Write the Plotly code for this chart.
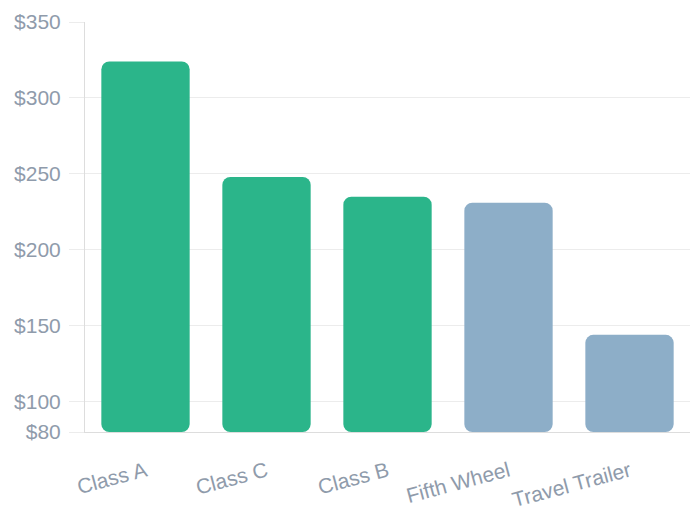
import plotly.graph_objects as go

categories = ["Class A", "Class C", "Class B", "Fifth Wheel", "Travel Trailer"]
values = [324, 248, 235, 231, 144]
bar_colors = ["#2bb58a", "#2bb58a", "#2bb58a", "#8daec8", "#8daec8"]
baseline = 80
y_ticks = [80, 100, 150, 200, 250, 300, 350]
y_tick_labels = ["$" + str(v) for v in y_ticks]

font_color = "#8f9bab"

fig = go.Figure(
    go.Bar(
        x=categories,
        y=[v - baseline for v in values],
        base=baseline,
        marker=dict(color=bar_colors, cornerradius=8, line=dict(width=0)),
        customdata=values,
        hovertemplate="%{x}: $%{customdata}<extra></extra>",
    )
)

fig.update_layout(
    width=690,
    height=511,
    margin=dict(l=85, r=0, t=22, b=79),
    paper_bgcolor="white",
    plot_bgcolor="white",
    bargap=0.27,
    showlegend=False,
    font=dict(family="Liberation Sans, Arial, sans-serif", color=font_color, size=21),
)
fig.update_xaxes(
    tickangle=-15,
    showgrid=False,
    showline=True,
    linecolor="#dddddd",
    linewidth=1,
    ticks="",
    ticklabelstandoff=18,
    tickfont=dict(size=21, color=font_color),
)
fig.update_yaxes(
    range=[80, 350],
    tickvals=y_ticks,
    ticktext=y_tick_labels,
    showgrid=True,
    gridcolor="#ececec",
    gridwidth=1,
    showline=True,
    linecolor="#dddddd",
    linewidth=1,
    ticks="outside",
    ticklen=15,
    tickcolor="#ececec",
    zeroline=False,
    ticklabelstandoff=4,
    tickfont=dict(size=21, color=font_color),
)

fig.write_html("out.html")
